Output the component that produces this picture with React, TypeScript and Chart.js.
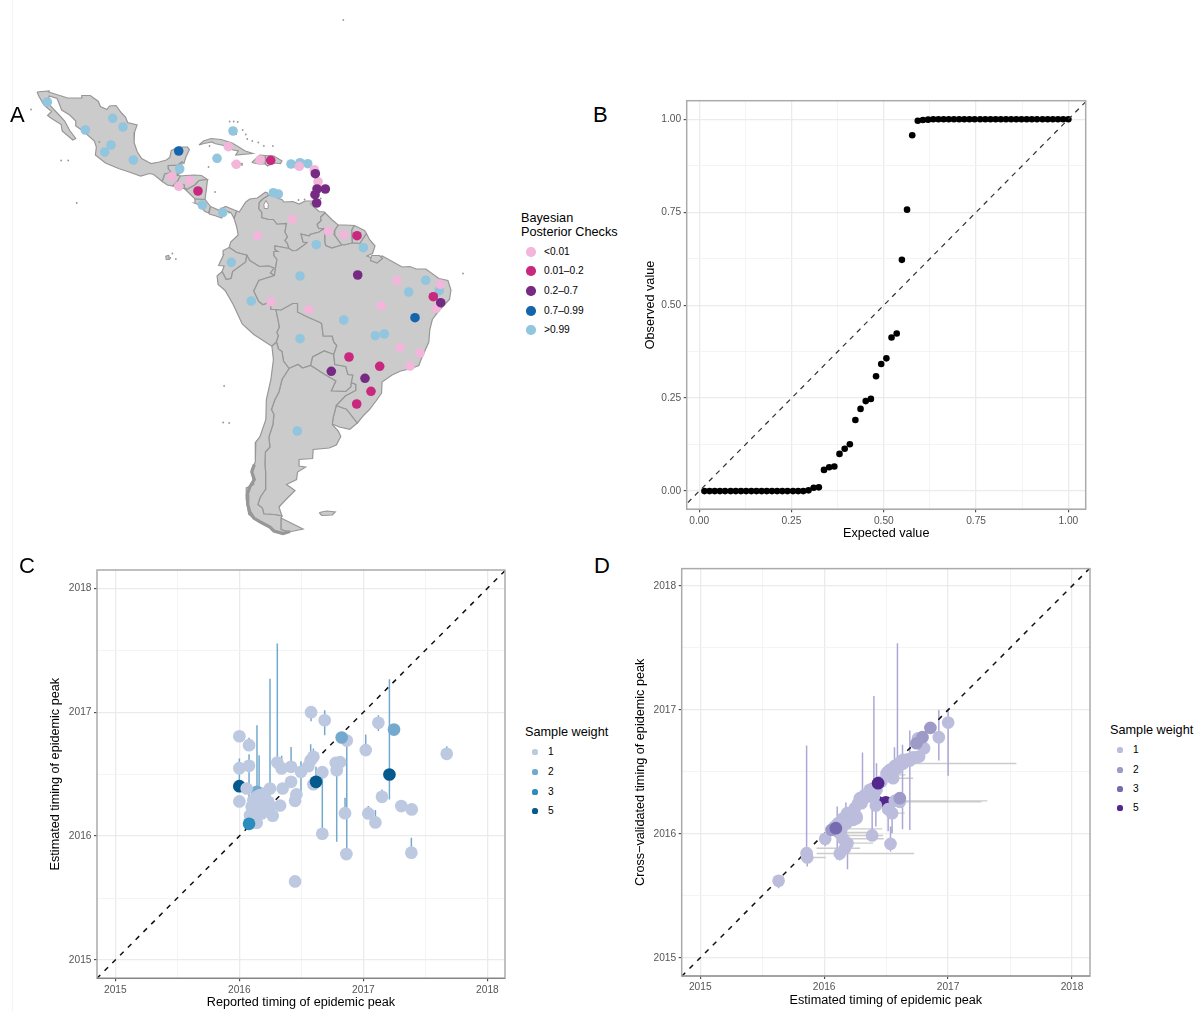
import React, { useEffect, useRef } from "react";
import { Chart, registerables } from "chart.js";

Chart.register(...registerables);

const FONT = '"Liberation Sans", Arial, sans-serif';

// ---------- Panel A: country outlines as [longitude, latitude] ----------
const mexico = [[-117.1,32.5],[-114.7,32.7],[-114.8,32.5],[-111,31.3],[-108.2,31.3],[-108.2,31.8],[-106.5,31.8],[-104.9,30.6],[-104.5,29.6],[-103.2,29],[-102.7,29.7],[-101.4,29.8],[-100.3,28.3],[-99.5,27.5],[-99.1,26.4],[-97.2,25.9],[-97.7,24.5],[-97.8,22.4],[-97.2,20.6],[-96.3,19.2],[-95,18.5],[-94.4,18.2],[-92.8,18.5],[-91.4,18.9],[-90.7,19.4],[-90.4,20.8],[-88.9,21.5],[-87.2,21.5],[-86.8,21],[-87.5,19.5],[-87.9,18.2],[-88.3,18.5],[-89.1,17.9],[-91,17.8],[-91,17.2],[-90.4,16.4],[-91.7,16.1],[-92.2,14.6],[-93.9,16],[-94.7,16.2],[-96.5,15.7],[-98.8,16.5],[-100.9,17.2],[-103.5,18.3],[-105.5,19.9],[-105.3,21.5],[-105.7,22.7],[-107.8,24.6],[-109.4,25.7],[-109.4,26.7],[-110.6,27.9],[-112.2,28.9],[-113.1,31.2],[-114.7,31.7],[-114.8,30.8],[-114.7,30],[-112.8,28],[-111.6,26.7],[-110.6,24.8],[-109.4,23.2],[-110,22.9],[-112.1,24.7],[-112.3,26],[-114.2,27.2],[-115,27.8],[-114.2,28.6],[-115.7,29.9],[-116.7,31.6]];
const guatemala = [[-92.2,14.6],[-91.7,16.1],[-90.4,16.4],[-91,17.2],[-91,17.8],[-89.15,17.8],[-89.2,15.9],[-88.6,15.7],[-89.2,14.6],[-90.1,13.7],[-91.2,13.9]];
const belize = [[-89.15,17.8],[-88.3,18.5],[-88.3,16.5],[-89.2,15.9]];
const elSalvador = [[-90.1,13.7],[-89.2,14.4],[-87.8,13.9],[-87.8,13.2],[-89,13.3]];
const honduras = [[-89.2,14.6],[-88.6,15.7],[-87.5,15.8],[-85.8,15.9],[-84.4,15.8],[-83.2,15],[-84.9,14.8],[-85.7,13.9],[-87.3,13],[-87.8,13.4],[-87.8,13.9],[-89.2,14.4]];
const nicaragua = [[-83.2,15],[-83.5,12.5],[-83.7,11],[-85.7,11.1],[-87.6,13],[-87.3,13],[-85.7,13.9],[-84.9,14.8]];
const costaRica = [[-85.7,11.1],[-83.7,11],[-82.6,9.6],[-83,8.3],[-83.7,8.6],[-85,10],[-85.8,10.3]];
const panama = [[-82.9,8.1],[-82.6,9.6],[-81,8.9],[-79.6,9.6],[-77.4,8.7],[-77.9,7.2],[-78.5,8.3],[-79.7,8.8],[-80.4,7.3],[-81.5,7.7]];
const cuba = [[-84.9,21.9],[-84,22.7],[-82.5,23.2],[-80.5,23],[-78.3,22.3],[-75.7,20.7],[-74.2,20.2],[-77.6,19.9],[-77.1,20.7],[-78.5,21],[-80,21.8],[-81.8,22.2],[-82.3,22.5],[-83.9,22.2]];
const haiti = [[-74.4,18.4],[-72.8,19.9],[-71.7,19.8],[-71.7,18.1],[-73,18.1]];
const dominicanRep = [[-71.7,19.8],[-70,19.7],[-68.4,18.7],[-68.7,18.2],[-70,18.3],[-71.3,17.7],[-71.7,18.1]];
const puertoRico = [[-67.2,18.4],[-65.7,18.4],[-65.8,18],[-67.2,17.95]];
const jamaica = [[-78.3,18.4],[-76.3,18.2],[-76.3,17.9],[-78.3,18.1]];
const trinidad = [[-61.9,10.7],[-61,10.8],[-61,10.1],[-61.9,10.05]];
const colombia = [[-77.4,8.7],[-76.9,8.5],[-75.6,10.5],[-74.8,11.1],[-73.3,11.3],[-71.7,12.45],[-71.3,12.3],[-71.1,11.8],[-72.2,11.1],[-72.9,10.4],[-73,9.2],[-72.4,8.4],[-72.4,7.4],[-71,7],[-70.1,7],[-69.4,6.1],[-67.5,6.2],[-67.8,4.5],[-67.3,3.5],[-67.8,2.8],[-67.3,2.2],[-67,1.2],[-69.8,1.7],[-69.8,1],[-69.2,0.6],[-70,0.6],[-70,-0.2],[-69.4,-1],[-69.9,-4.2],[-70.7,-3.7],[-70,-2.7],[-71,-2.3],[-72.9,-2.4],[-74.8,-1.2],[-75.4,-0.15],[-77.4,0.4],[-78.9,1.4],[-78.6,2.5],[-77.1,3.9],[-77.4,5.5],[-77.9,7.2]];
const venezuela = [[-71.1,11.8],[-70,12.2],[-69.7,11.5],[-68.3,10.9],[-68,10.5],[-66.2,10.6],[-65,10.1],[-63.8,10.7],[-62,10.7],[-62.7,10.1],[-61,8.6],[-60,8.5],[-59.8,8.3],[-60.7,7.5],[-60.6,6.8],[-61.4,6],[-61.1,5.2],[-60.1,5.2],[-61,4.5],[-62.8,4],[-63,3.7],[-64.6,4.1],[-64.2,2.5],[-63.4,2.4],[-64,1.9],[-65.5,0.8],[-66.3,0.75],[-67,1.2],[-67.3,2.2],[-67.8,2.8],[-67.3,3.5],[-67.8,4.5],[-67.5,6.2],[-69.4,6.1],[-70.1,7],[-71,7],[-72.4,7.4],[-72.4,8.4],[-73,9.2],[-72.9,10.4],[-72.2,11.1]];
const lakeMaracaibo = [[-71.6,10.8],[-71.1,10],[-71.2,9.2],[-71.9,9.2],[-72,10]];
const guyana = [[-60,8.5],[-58.5,7],[-57.2,5.9],[-57.9,4.8],[-58,4],[-56.5,1.9],[-58.5,1.3],[-59.7,1.8],[-59.9,2.5],[-59.9,4.2],[-60.1,5.2],[-61.1,5.2],[-61.4,6],[-60.6,6.8],[-60.7,7.5],[-59.8,8.3]];
const suriname = [[-57.2,5.9],[-55.9,5.9],[-54,5.8],[-54.5,4.9],[-54.4,2.3],[-56,1.9],[-56.5,1.9],[-58,4],[-57.9,4.8]];
const frenchGuiana = [[-54,5.8],[-52,4.8],[-51.6,4.2],[-52.9,2.2],[-54.4,2.3],[-54.5,4.9]];
const ecuador = [[-78.9,1.4],[-77.4,0.4],[-75.4,-0.15],[-75.6,-1.5],[-78.2,-3.4],[-78.5,-4.8],[-79.5,-5],[-80.3,-3.4],[-79.9,-2.3],[-81,-2.2],[-80,0],[-80.1,0.8]];
const peru = [[-80.3,-3.4],[-81.3,-4.3],[-81.1,-6],[-79.7,-7.2],[-78.1,-10],[-76.3,-13.9],[-74,-16],[-70.4,-18.35],[-69.5,-17.5],[-69.1,-16.2],[-69.4,-15.6],[-68.9,-14.5],[-69.6,-11],[-70.6,-11],[-70.6,-9.5],[-72.2,-10],[-73,-9.4],[-74,-7.3],[-73,-5.2],[-69.9,-4.2],[-70.7,-3.7],[-70,-2.7],[-71,-2.3],[-72.9,-2.4],[-74.8,-1.2],[-75.4,-0.15],[-75.6,-1.5],[-78.2,-3.4],[-78.5,-4.8],[-79.5,-5]];
const bolivia = [[-69.6,-11],[-68.6,-11.1],[-66.3,-9.8],[-65.3,-9.8],[-65.3,-11.5],[-63.3,-12.5],[-61,-13.5],[-60.5,-13.8],[-60.2,-16.3],[-58.4,-16.3],[-58.1,-17.5],[-57.5,-18.2],[-58.1,-20],[-60,-19.3],[-62.3,-20.5],[-62.7,-22.2],[-64.3,-22.7],[-65.2,-22],[-67,-22.8],[-68.1,-21.3],[-68.4,-19.4],[-69.1,-18.9],[-69.5,-17.5],[-69.1,-16.2],[-69.4,-15.6],[-68.9,-14.5]];
const paraguay = [[-58.1,-20],[-57.9,-22],[-55.7,-22.4],[-55.3,-24],[-54.3,-24.1],[-54.7,-26.5],[-55.7,-27.4],[-58.6,-27.3],[-57.7,-25.3],[-59.9,-24],[-62.7,-22.2],[-62.3,-20.5],[-60,-19.3]];
const uruguay = [[-58.4,-33.9],[-58.2,-32.5],[-57.6,-30.2],[-56,-30.8],[-55.6,-30.9],[-53.4,-33.7],[-54.9,-34.95],[-57,-34.5]];
const brazil = [[-51.6,4.2],[-51,3],[-49.9,1.7],[-50.4,0.2],[-51.5,-0.3],[-50,-0.9],[-48.5,-0.3],[-47.9,-0.6],[-44.5,-2.5],[-43,-2.4],[-41.7,-2.9],[-39.8,-2.9],[-37.2,-4.8],[-35.4,-5.2],[-34.8,-7.1],[-35.1,-9],[-37,-11],[-38.5,-13],[-39,-15],[-39.2,-17.5],[-40.7,-20.9],[-41.2,-22.2],[-43,-22.9],[-44.8,-23.3],[-46.5,-24.1],[-48.5,-25.5],[-48.6,-27.7],[-49.7,-29.3],[-51,-31],[-52.2,-32.2],[-53.4,-33.7],[-55.6,-30.9],[-56,-30.8],[-57.6,-30.2],[-55.8,-28.3],[-53.7,-27.2],[-53.7,-26],[-54.6,-25.6],[-54.3,-24.1],[-55.3,-24],[-55.7,-22.4],[-57.9,-22],[-58.1,-20],[-57.5,-18.2],[-58.1,-17.5],[-58.4,-16.3],[-60.2,-16.3],[-60.5,-13.8],[-61,-13.5],[-63.3,-12.5],[-65.3,-11.5],[-65.3,-9.8],[-66.3,-9.8],[-68.6,-11.1],[-69.6,-11],[-70.6,-11],[-70.6,-9.5],[-72.2,-10],[-73,-9.4],[-74,-7.3],[-73,-5.2],[-69.9,-4.2],[-69.4,-1],[-70,-0.2],[-70,0.6],[-69.2,0.6],[-69.8,1],[-69.8,1.7],[-67,1.2],[-66.3,0.75],[-65.5,0.8],[-64,1.9],[-63.4,2.4],[-64.2,2.5],[-64.6,4.1],[-63,3.7],[-62.8,4],[-61,4.5],[-60.1,5.2],[-59.9,4.2],[-59.9,2.5],[-59.7,1.8],[-58.5,1.3],[-56.5,1.9],[-56,1.9],[-54.4,2.3],[-52.9,2.2]];
const marajo = [[-50.6,-0.2],[-49,-0.2],[-48.4,-0.8],[-49.5,-1.7],[-50.8,-1.2]];
const argentina = [[-67,-22.8],[-65.2,-22],[-64.3,-22.7],[-62.7,-22.2],[-59.9,-24],[-57.7,-25.3],[-58.6,-27.3],[-55.7,-27.4],[-54.7,-26.5],[-54.6,-25.6],[-53.7,-26],[-53.7,-27.2],[-55.8,-28.3],[-57.6,-30.2],[-58.2,-32.5],[-58.4,-34],[-57.2,-35.3],[-56.7,-36.4],[-57.6,-38.1],[-59,-38.7],[-62.2,-39],[-62.3,-40.8],[-65,-41],[-65,-42.3],[-63.7,-42.5],[-65.3,-43.5],[-65.5,-45],[-67.5,-46],[-65.8,-47.2],[-67.6,-49],[-69,-50.5],[-68.4,-52.3],[-70,-52],[-72,-51.9],[-72.3,-50.7],[-73.2,-50],[-72.7,-48.5],[-71.7,-47],[-71.7,-45],[-71.6,-43.5],[-71.8,-42],[-71.7,-39.5],[-70.8,-38.5],[-71,-36.5],[-70.2,-34],[-70,-32],[-70.5,-31],[-69.8,-29],[-69,-27.5],[-68.4,-25]];
const fuegoEast = [[-68.6,-52.7],[-64.2,-54.9],[-67,-55.5],[-68.6,-55]];
const chile = [[-70.4,-18.35],[-70.1,-21],[-70.6,-25],[-71.5,-29],[-71.6,-33],[-72.8,-36.5],[-73.6,-37.5],[-73.7,-40],[-73.7,-41.5],[-74.5,-43],[-74,-46],[-75.5,-46.7],[-75.5,-49],[-75,-52],[-73,-53.5],[-71,-54.4],[-70,-55.3],[-68.2,-55.9],[-67,-55.5],[-68.6,-55],[-68.6,-52.7],[-68.4,-52.3],[-70,-52],[-72,-51.9],[-72.3,-50.7],[-73.2,-50],[-72.7,-48.5],[-71.7,-47],[-71.7,-45],[-71.6,-43.5],[-71.8,-42],[-71.7,-39.5],[-70.8,-38.5],[-71,-36.5],[-70.2,-34],[-70,-32],[-70.5,-31],[-69.8,-29],[-69,-27.5],[-68.4,-25],[-67,-22.8],[-68.1,-21.3],[-68.4,-19.4],[-69.1,-18.9],[-69.5,-17.5]];
const falklands = [[-61,-51.6],[-59.5,-51.3],[-57.8,-51.5],[-58.4,-52.1],[-60.5,-52.2]];
const galapagos = [[-91.5,-0.3],[-90.9,-0.2],[-90.8,-1],[-91.4,-1]];
const countries = [mexico, guatemala, belize, elSalvador, honduras, nicaragua, costaRica, panama, cuba, haiti, dominicanRep, puertoRico, jamaica, trinidad, colombia, venezuela, guyana, suriname, frenchGuiana, ecuador, peru, bolivia, paraguay, uruguay, argentina, fuegoEast, chile, brazil, marajo, falklands, galapagos];
const chileFjords = [[-73.9,-42],[-74.4,-43.5],[-73.9,-45],[-74.8,-46.5],[-75.3,-48],[-75.2,-50],[-74.8,-51.5],[-74,-52.7],[-72.5,-53.6],[-70.8,-54.5],[-70,-55.3],[-68.2,-55.8],[-66.8,-55.4]];
const tinyIslands = [[-110.9,18.8],[-112.3,18.8],[-118.3,29],[-104.7,22.5],[-109.2,10.3],[-80.1,-33.6],[-79.9,-26.3],[-78.9,-33.7],[-56.2,46.9],[-90.2,0.2],[-90.6,-0.7],[-89.5,-0.9],[-78.8,26.6],[-78,26.6],[-77.2,26.5],[-77.8,24.6],[-77.5,24.1],[-76.2,24.9],[-75.6,24],[-75.3,23.1],[-74.3,22.7],[-73.1,22.4],[-72,21.7],[-70.2,21.7],[-81.2,19.3],[-82.8,21.7],[-83,17.5],[-81.7,12.5],[-60.7,11.2],[-32.4,-3.8],[-80.5,9.2],[-78.9,8.4],[-69.9,12.5],[-65.1,10.9],[-63.9,11]];

const checksTop = [[-115.05,30.5],[-102.05,27.24],[-100,25.5],[-107.5,24.9],[-102.39,21.9],[-103.64,20.5],[-97.95,18.9],[-78.13,24.7],[-81.31,19.24],[-88.73,17.1],[-84.24,9.9],[-80.18,8.36],[-66.6,18.1],[-70.12,12.36],[-69.13,12.1],[-78.47,-1.56],[-74.5,-9.3],[-64.81,18.36],[-63.28,18.16],[-61.57,1.96],[-52.23,1.36],[-64.81,-4.3],[-39.82,-5.16],[-37.12,-7.24],[-43.2,-7.5],[-56.13,-13.1],[-49.84,-16.24],[-48.05,-15.9],[-64.81,-16.84],[-65.35,-35.3]];
const checksHigh = [[-88.93,20.7],[-41.95,-12.64]];
const checksVeryLow = [[-79.07,21.56],[-77.48,18.04],[-72.77,18.9],[-90.32,15.56],[-86.74,14.76],[-88.93,13.64],[-66.34,7.04],[-73.22,3.76],[-70.58,-9.44],[-64.95,17.64],[-61.97,16.96],[-61.23,14.56],[-59.19,4.64],[-56.13,3.96],[-45.53,-5.24],[-36.92,-5.96],[-48.65,-10.3],[-63.02,-11.04],[-37.72,-10.76],[-44.93,-18.6],[-40.96,-19.7],[-42.94,-22.3]];
const checksLow = [[-70.64,18.84],[-85.1,12.7],[-53.48,3.76],[-38.31,-8.44],[-55.07,-20.5],[-48.97,-22.36],[-50.7,-27.36],[-53.54,-29.9]];
const checksMid = [[-61.77,16.16],[-61.43,13.1],[-59.78,13.1],[-61.83,11.96],[-61.5,10.3],[-53.34,-4.1],[-36.84,-9.64],[-58.59,-23.36],[-51.89,-24.76]];

const checkColors = ["#F1B6DA", "#C9287F", "#762A83", "#1565AC", "#92C5DE"];
const checkLabels = ["<0.01", "0.01–0.2", "0.2–0.7", "0.7–0.99", ">0.99"];

// ---------- Panel B ----------
const expected = [0.014,0.028,0.042,0.056,0.07,0.085,0.099,0.113,0.127,0.141,0.155,0.169,0.183,0.197,0.211,0.225,0.239,0.254,0.268,0.282,0.296,0.31,0.324,0.338,0.352,0.366,0.38,0.394,0.408,0.423,0.437,0.451,0.465,0.479,0.493,0.507,0.521,0.535,0.549,0.563,0.577,0.592,0.606,0.62,0.634,0.648,0.662,0.676,0.69,0.704,0.718,0.732,0.746,0.761,0.775,0.789,0.803,0.817,0.831,0.845,0.859,0.873,0.887,0.901,0.915,0.93,0.944,0.958,0.972,0.986,1];
const observed = [0,0,0,0,0,0,0,0,0,0,0,0,0,0,0,0,0,0,0,0,0.002,0.009,0.01,0.057,0.064,0.066,0.1,0.114,0.126,0.191,0.221,0.242,0.248,0.309,0.342,0.357,0.413,0.424,0.622,0.757,0.957,0.996,0.998,0.999,1,1,1,1,1,1,1,1,1,1,1,1,1,1,1,1,1,1,1,1,1,1,1,1,1,1,1];
const bMajor = [0, 0.25, 0.5, 0.75, 1];
const bMinor = [0.125, 0.375, 0.625, 0.875];

// ---------- Panels C and D ----------
const yearMajor = [2015, 2016, 2017, 2018];
const yearMinor = [2015.5, 2016.5, 2017.5];

// [x, y, low, high]; the "Under" lists sit beneath the weight-1 points in the picture
const cWeight2Under = [[2016.142,2016.358,null,2016.895]];
const cWeight5Under = [[2016.0,2016.403,null,null]];
const cWeight1 = [
  [2016.0,2016.806,null,null],[2016.078,2016.734,2016.693,2016.793],[2016.0,2016.548,2016.452,2016.626],[2016.078,2016.567,2016.21,2016.66],
  [2016.059,2016.384,null,null],[2016.0,2016.28,null,null],[2016.14,2016.317,null,null],[2016.14,2016.25,null,null],[2016.18,2016.263,null,null],
  [2016.234,2016.277,null,null],[2016.153,2016.21,null,null],[2016.207,2016.223,null,null],[2016.126,2016.183,null,null],[2016.14,2016.108,null,null],
  [2016.099,2016.142,null,null],[2016.328,2016.247,null,null],[2016.269,2016.164,null,null],[2016.247,2016.384,null,2017.271],[2016.349,2016.384,null,null],
  [2016.417,2016.438,null,null],[2016.306,2016.594,null,2017.554],[2016.341,2016.546,null,2016.648],[2016.417,2016.559,null,2016.72],[2016.497,2016.519,2016.344,2016.605],
  [2016.556,2016.564,null,null],[2016.575,2016.613,null,2016.742],[2016.597,2016.64,null,2016.707],[2016.669,2016.516,2016.019,null],[2016.578,2017.0,2016.927,null],
  [2016.688,2016.935,2016.814,2017.016],[2016.866,2016.771,2015.87,null],[2017.019,2016.694,null,2016.82],[2017.121,2016.914,2016.849,2016.976],[2017.672,2016.664,null,2016.726],
  [2016.777,2016.591,null,null],[2016.812,2016.597,null,null],[2016.785,2016.532,2015.954,null],[2016.597,2016.419,null,null],[2016.46,2016.336,null,null],
  [2016.449,2016.285,null,null],[2016.669,2016.019,null,null],[2016.852,2016.185,null,2016.309],[2017.04,2016.183,null,2016.242],[2017.097,2016.11,null,2016.21],
  [2017.15,2016.317,null,2016.376],[2017.306,2016.242,null,null],[2017.39,2016.215,null,null],[2017.387,2015.866,null,2015.987],[2016.449,2015.634,null,null],
  [2016.863,2015.855,null,null],[2016.159,2016.29,null,2016.653],[2016.099,2016.237,null,null],[2016.18,2016.183,null,null],[2016.207,2016.277,null,null],
  [2016.167,2016.331,null,null],[2016.086,2016.169,null,null],[2016.247,2016.237,null,null],[2016.113,2016.29,null,null],[2016.207,2016.344,null,null],
];
const cWeight2 = [[2016.825,2016.796,null,null],[2017.247,2016.86,null,null]];
const cWeight3 = [[2016.078,2016.099,null,null]];
const cWeight5 = [[2016.618,2016.438,null,2016.56],[2017.21,2016.497,2016.296,2017.266]];

// [x, y, low, high, xLow, xHigh]
const dWeight5Under = [[2016.497,2016.255,null,null,null,null],[2016.427,2016.261,null,null,null,null]];
const dWeight1 = [
  [2015.632,2015.621,2015.562,null,null,null],[2015.858,2015.844,null,2016.712,null,null],[2015.863,2015.809,2015.737,null,null,2016.013],[2016.008,2015.96,2015.9,null,null,null],
  [2016.118,2016.011,null,null,null,2016.422],[2016.126,2015.841,2015.785,null,2015.938,2016.726],[2016.188,2015.925,2015.715,null,null,2016.395],[2016.167,2015.884,null,null,2015.938,2016.29],
  [2016.153,2015.96,null,null,null,2016.481],[2016.14,2016.04,null,null,null,2016.468],[2016.387,2015.987,null,2016.25,2016.18,2016.476],[2016.535,2015.919,2015.858,2016.06,null,null],
  [2016.417,2016.228,2016.059,null,null,null],[2016.516,2016.199,2016.02,null,null,null],[2016.548,2016.167,2016.005,null,null,2016.65],[2016.806,2016.691,null,null,null,null],
  [2016.758,2016.771,null,null,null,null],[2016.925,2016.78,2016.591,2017.0,null,null],[2017.0,2016.898,2016.468,2017.0,null,null],[2016.14,2016.099,null,null,null,null],
  [2016.167,2016.113,null,null,null,null],[2016.194,2016.14,null,null,null,null],[2016.22,2016.14,null,null,null,null],[2016.261,2016.126,null,null,null,null],[2016.185,2016.167,null,null,null,null],
  [2016.234,2016.18,null,null,null,null],[2016.274,2016.247,null,null,null,null],[2016.315,2016.288,null,null,null,null],[2016.355,2016.301,null,null,null,null],[2016.301,2016.247,null,null,null,null],
  [2016.382,2016.315,null,null,null,null],[2016.422,2016.355,null,2016.57,null,null],[2016.516,2016.503,null,null,null,null],[2016.543,2016.476,null,null,null,2016.656],[2016.556,2016.449,null,null,null,2016.718],
  [2016.556,2016.53,null,null,null,null],[2016.597,2016.556,null,null,null,null],[2016.624,2016.57,null,null,null,null],[2016.664,2016.591,null,null,null,null],[2016.704,2016.61,null,null,null,null],
  [2016.745,2016.618,null,null,null,null],[2016.583,2016.543,null,null,null,null],[2016.651,2016.583,null,null,null,null],[2016.401,2016.301,null,2017.113,null,null],[2016.591,2016.53,null,2017.538,null,null],
  [2016.309,2016.274,null,2016.656,null,null],[2016.691,2016.591,2016.032,2016.833,null,null],[2016.632,2016.57,2016.038,2016.718,null,null],[2016.567,2016.53,null,2016.699,null,null],
  [2016.105,2016.073,2015.79,2016.22,null,null],[2016.175,2016.14,2015.952,2016.253,null,null],[2016.637,2016.567,null,null,2016.6,2017.551],[2016.57,2016.266,null,null,null,2017.317],[2016.61,2016.258,null,null,null,2017.269],
  [2016.086,2016.059,null,null,null,null],[2016.113,2016.086,null,null,null,null],[2016.153,2016.126,null,null,null,null],[2016.207,2016.167,null,null,null,null],[2016.247,2016.207,null,null,null,null],
  [2016.288,2016.288,null,null,null,null],[2016.328,2016.314,null,null,null,null],[2016.368,2016.355,null,null,null,null],[2016.395,2016.368,null,null,null,null],[2016.462,2016.422,null,null,null,null],
  [2016.503,2016.489,null,null,null,null],[2016.53,2016.516,null,null,null,null],[2016.57,2016.548,null,null,null,null],[2016.61,2016.575,null,null,null,null],[2016.637,2016.597,null,null,null,null],
  [2016.677,2016.602,null,null,null,null],[2016.718,2016.618,null,null,null,null],[2016.766,2016.624,null,null,null,null],[2016.234,2016.113,null,null,null,null],[2016.18,2016.086,null,null,null,null],[2016.261,2016.14,null,null,null,null],
];
const dWeight2 = [[2016.857,2016.855,null,null,null,null],[2016.793,2016.78,null,null,null,null],[2016.745,2016.731,null,null,null,null],[2016.61,2016.288,null,null,null,null],[2016.059,2016.032,null,null,null,null]];
const dWeight3 = [[2016.094,2016.046,null,null,null,null]];
const dWeight5 = [[2016.435,2016.409,null,null,null,null]];

const weightLabels = ["1", "2", "3", "5"];
const cColors = ["#BDC9E1", "#74A9CF", "#2B8CBE", "#045A8D"];
const dColors = ["#BCBDDC", "#9E9AC8", "#756BB1", "#54278F"];

// ---------- helpers ----------
const toXY = (rows: any[]) => rows.map((r) => ({ x: r[0], y: r[1] }));
const closed = (rows: number[][]) => toXY([...rows, rows[0]]);

const vBars = (rows: any[][]) => {
  const out: any[] = [];
  rows.forEach((r) => {
    if (r[2] == null && r[3] == null) return;
    out.push({ x: r[0], y: r[2] ?? r[1] }, { x: r[0], y: r[3] ?? r[1] }, { x: r[0], y: null });
  });
  return out;
};
const hBars = (rows: any[][]) => {
  const out: any[] = [];
  rows.forEach((r) => {
    if (r[4] == null && r[5] == null) return;
    out.push({ x: r[4] ?? r[0], y: r[1] }, { x: r[5] ?? r[0], y: r[1] }, { x: null, y: null });
  });
  return out;
};

const panelBorder = (bottomColor: string) => ({
  id: "panelBorder",
  afterDraw(chart: any) {
    const a = chart.chartArea;
    const c = chart.ctx;
    c.save();
    c.strokeStyle = "#ABABAB";
    c.lineWidth = 1.5;
    c.strokeRect(a.left, a.top, a.width, a.height);
    c.strokeStyle = bottomColor;
    c.lineWidth = 1.2;
    c.beginPath();
    c.moveTo(a.left, a.bottom);
    c.lineTo(a.right, a.bottom);
    c.stroke();
    c.restore();
  },
});

const axis = (min: number, max: number, major: number[], minor: number[], fmt: (v: number) => string, title: string, size: number, titlePad: number, isY: boolean) => ({
  type: "linear",
  min,
  max,
  afterBuildTicks: (s: any) => {
    s.ticks = [...major, ...minor].sort((a, b) => a - b).map((value) => ({ value }));
  },
  afterFit: (s: any) => {
    if (isY) s.width = size;
    else s.height = size;
  },
  border: { display: false },
  grid: {
    color: (c: any) => (major.includes(c.tick?.value) ? "#EBEBEB" : "#F1F1F1"),
    lineWidth: (c: any) => (major.includes(c.tick?.value) ? 1.3 : 0.8),
    tickColor: (c: any) => (major.includes(c.tick?.value) ? "#333333" : "rgba(0,0,0,0)"),
    tickWidth: 1,
    tickLength: 3,
  },
  ticks: {
    autoSkip: false,
    maxRotation: 0,
    minRotation: 0,
    padding: 2.5,
    color: "#555555",
    font: { family: FONT, size: 10.2 },
    callback: (v: number) => (major.includes(v) ? fmt(v) : ""),
  },
  title: { display: true, text: title, color: "#000000", font: { family: FONT, size: 12.65 }, padding: { top: titlePad, bottom: titlePad } },
});

const diagonal = (lo: number, hi: number, color: string, width: number, dash: number[]) => ({
  data: [{ x: lo, y: lo }, { x: hi, y: hi }],
  showLine: true,
  borderColor: color,
  borderWidth: width,
  borderDash: dash,
  pointRadius: 0,
});

const points = (rows: any[], color: string, radius: number) => ({
  data: toXY(rows),
  backgroundColor: color,
  borderWidth: 0,
  pointRadius: radius,
  pointBorderWidth: 0,
});

const bars = (data: any[], color: string, width: number) => ({
  data,
  showLine: true,
  spanGaps: false,
  borderColor: color,
  borderWidth: width,
  pointRadius: 0,
});

const baseOptions = (padding: any, scales: any) => ({
  responsive: false,
  animation: false,
  devicePixelRatio: 1,
  events: [],
  layout: { autoPadding: false, padding },
  plugins: { legend: { display: false }, tooltip: { enabled: false } },
  scales,
});

// Chart.js paints the first dataset on top, so lists written bottom-to-top are reversed.
function makeMap(canvas: HTMLCanvasElement) {
  const datasets: any[] = countries.map((c) => ({
    data: closed(c),
    showLine: true,
    fill: "shape",
    backgroundColor: "#CBCBCB",
    borderColor: "#979797",
    borderWidth: 1.2,
    pointRadius: 0,
    tension: 0,
  }));
  datasets.push({ data: closed(lakeMaracaibo), showLine: true, fill: "shape", backgroundColor: "#FFFFFF", borderColor: "#979797", borderWidth: 1, pointRadius: 0 });
  datasets.push({ data: toXY(chileFjords), showLine: true, borderColor: "#979797", borderWidth: 3.2, pointRadius: 0 });
  datasets.push({ data: toXY(tinyIslands), backgroundColor: "#979797", pointRadius: 0.9, borderWidth: 0 });
  [checksTop, checksVeryLow, checksLow, checksMid, checksHigh].forEach((rows, i) => {
    const color = [checkColors[4], checkColors[0], checkColors[1], checkColors[2], checkColors[3]][i];
    datasets.push(points(rows, color, 4.8));
  });
  return new Chart(canvas, {
    type: "scatter",
    data: { datasets: datasets.reverse() },
    options: baseOptions(0, {
      x: { type: "linear", min: -124.46, max: -25.05, display: false },
      y: { type: "linear", min: -61.1, max: 49.9, display: false },
    }) as any,
  });
}

function makeB(canvas: HTMLCanvasElement) {
  return new Chart(canvas, {
    type: "scatter",
    data: {
      datasets: [
        { ...diagonal(-0.05, 1.06, "#333333", 1.2, [5, 5]) },
        { data: expected.map((x, i) => ({ x, y: observed[i] })), backgroundColor: "#000000", pointRadius: 3.3, pointBorderWidth: 0 } as any,
      ],
    },
    plugins: [panelBorder("#ABABAB")],
    options: baseOptions({ left: 0, top: 10.7, right: 14.3, bottom: 0 }, {
      x: axis(-0.034, 1.047, bMajor, bMinor, (v) => v.toFixed(2), "Expected value", 40.7, 8.9, false),
      y: axis(-0.049, 1.05, bMajor, bMinor, (v) => v.toFixed(2), "Observed value", 56.7, 13.3, true),
    }) as any,
  });
}

function makeYear(canvas: HTMLCanvasElement, layers: { rows: any[][]; color: string }[], barColor: string, xTitle: string, yTitle: string, geom: any) {
  const all = layers.flatMap((l) => l.rows);
  const datasets: any[] = [
    bars(hBars(all), "#CCCCCC", 1.4),
    bars(vBars(all), barColor, 1.5),
    diagonal(geom.lo, geom.hi, "#111111", 1.5, [5, 6]),
    ...layers.map((l) => points(l.rows, l.color, 6.35)),
  ];
  const f = (v: number) => String(v);
  return new Chart(canvas, {
    type: "scatter",
    data: { datasets: datasets.reverse() },
    plugins: [panelBorder("#858585")],
    options: baseOptions(geom.padding, {
      x: axis(geom.xMin, geom.xMax, yearMajor, yearMinor, f, xTitle, geom.h, geom.xPad, false),
      y: axis(geom.yMin, geom.yMax, yearMajor, yearMinor, f, yTitle, geom.w, geom.yPad, true),
    }) as any,
  });
}

const Label = ({ x, y, size, children, color = "#000", width }: any) => (
  <div style={{ position: "absolute", left: x, top: y - size * 0.6, fontFamily: FONT, fontSize: size, lineHeight: `${size * 1.2}px`, color, whiteSpace: "nowrap", width }}>{children}</div>
);

const Legend = ({ x, title, titleYs, ys, labels, colors, r, dotX, labelX }: any) => (
  <>
    {title.map((t: string, i: number) => (
      <Label key={t} x={x} y={titleYs[i]} size={12.7}>{t}</Label>
    ))}
    {labels.map((l: string, i: number) => (
      <React.Fragment key={l}>
        <div style={{ position: "absolute", left: dotX - r, top: ys[i] - r, width: 2 * r, height: 2 * r, borderRadius: "50%", background: colors[i] }} />
        <Label x={labelX} y={ys[i]} size={10.2}>{l}</Label>
      </React.Fragment>
    ))}
  </>
);

const Panel = ({ refObj, x, y, w, h }: any) => (
  <canvas ref={refObj} width={w} height={h} style={{ position: "absolute", left: x, top: y, width: w, height: h }} />
);

export default function App() {
  const a = useRef<HTMLCanvasElement>(null);
  const b = useRef<HTMLCanvasElement>(null);
  const c = useRef<HTMLCanvasElement>(null);
  const d = useRef<HTMLCanvasElement>(null);
  useEffect(() => {
    document.body.style.margin = "0";
    const charts = [
      makeMap(a.current!),
      makeB(b.current!),
      makeYear(c.current!, [
        { rows: cWeight2Under, color: cColors[1] },
        { rows: cWeight5Under, color: cColors[3] },
        { rows: cWeight1, color: cColors[0] },
        { rows: cWeight2, color: cColors[1] },
        { rows: cWeight3, color: cColors[2] },
        { rows: cWeight5, color: cColors[3] },
      ], "#74A9CF", "Reported timing of epidemic peak", "Estimated timing of epidemic peak", {
        lo: 2014.85, hi: 2018.15, xMin: 2014.852, xMax: 2018.142, yMin: 2014.852, yMax: 2018.148,
        padding: { left: 0, top: 10, right: 5, bottom: 0 }, h: 31.7, w: 57, xPad: 0, yPad: 7.6,
      }),
      makeYear(d.current!, [
        { rows: dWeight5Under, color: dColors[3] },
        { rows: dWeight1, color: dColors[0] },
        { rows: dWeight2, color: dColors[1] },
        { rows: dWeight3, color: dColors[2] },
        { rows: dWeight5, color: dColors[3] },
      ], "#ABA8D5", "Estimated timing of epidemic peak", "Cross−validated timing of epidemic peak", {
        lo: 2014.85, hi: 2018.15, xMin: 2014.85, xMax: 2018.145, yMin: 2014.853, yMax: 2018.14,
        padding: { left: 0, top: 8, right: 10, bottom: 0 }, h: 34, w: 56.7, xPad: 1.9, yPad: 7.6,
      }),
    ];
    return () => charts.forEach((ch) => ch.destroy());
  }, []);
  return (
    <div style={{ position: "absolute", left: 0, top: 0, width: 1204, height: 1011, background: "#fff", overflow: "hidden" }}>
      <div style={{ position: "absolute", left: 12, top: 0, width: 1, height: 1011, background: "#F4F4F4" }} />
      <Panel refObj={a} x={0} y={5} w={500} h={555} />
      <Panel refObj={b} x={630} y={90} w={470} h={460} />
      <Panel refObj={c} x={40} y={560} w={470} h={450} />
      <Panel refObj={d} x={625} y={560} w={475} h={450} />
      <Label x={10} y={115} size={22}>A</Label>
      <Label x={593} y={115} size={22}>B</Label>
      <Label x={19} y={566} size={22}>C</Label>
      <Label x={594} y={566} size={22}>D</Label>
      <Legend x={521} title={["Bayesian", "Posterior Checks"]} titleYs={[219, 233]} ys={[252, 271, 291, 311, 330]} labels={checkLabels} colors={checkColors} r={4.7} dotX={531} labelX={544} />
      <Legend x={525} title={["Sample weight"]} titleYs={[733]} ys={[752, 772, 792, 811]} labels={weightLabels} colors={cColors} r={2.6} dotX={535} labelX={548} />
      <Legend x={1110} title={["Sample weight"]} titleYs={[731]} ys={[750, 770, 789, 808]} labels={weightLabels} colors={dColors} r={2.6} dotX={1120} labelX={1133} />
    </div>
  );
}
